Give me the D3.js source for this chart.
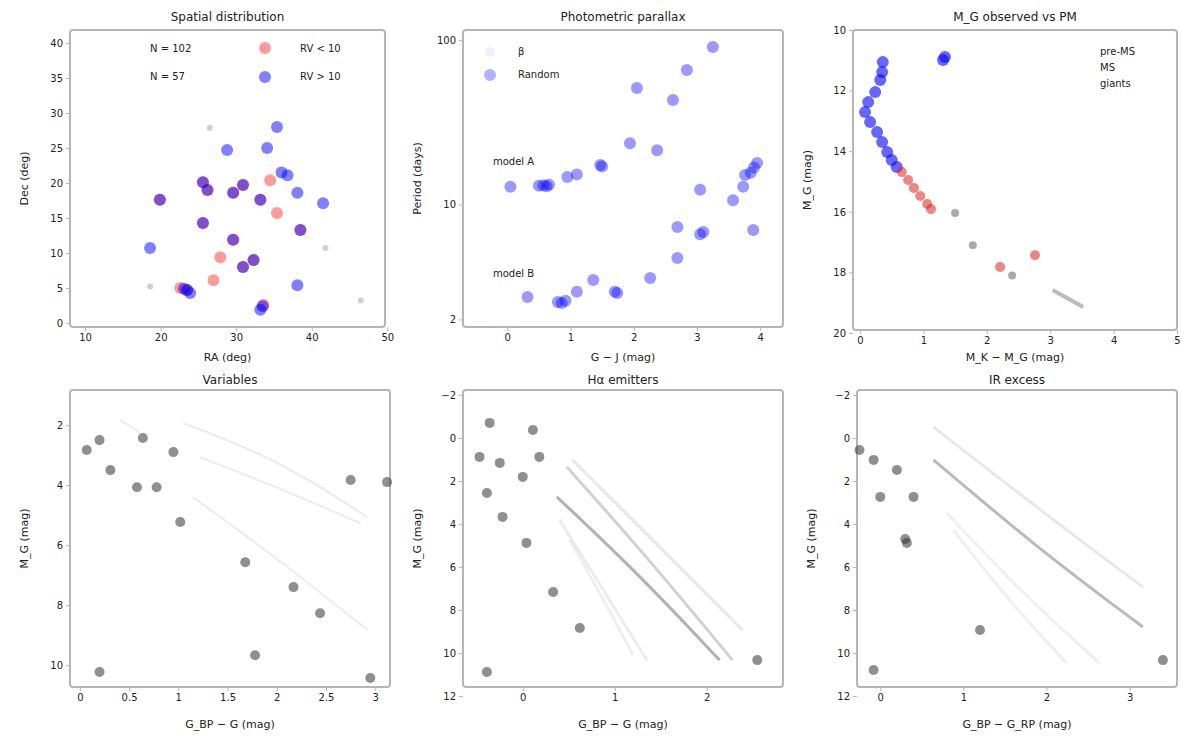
<!DOCTYPE html>
<html><head><meta charset="utf-8">
<script src="https://cdn.jsdelivr.net/npm/d3@7"></script>
<style>
body{margin:0;background:#fff;}
text{font-family:"DejaVu Sans",sans-serif;fill:#222;}
</style></head>
<body><svg id="c" width="1200" height="756"></svg>
<script>
// ---------- DATA ----------
const panelTitles = ["Spatial distribution","Photometric parallax","M_G observed vs PM","Variables","Hα emitters","IR excess"];
const xLabels = ["RA (deg)","G − J (mag)","M_K − M_G (mag)","G_BP − G (mag)","G_BP − G (mag)","G_BP − G_RP (mag)"];
const yLabels = ["Dec (deg)","Period (days)","M_G (mag)","M_G (mag)","M_G (mag)","M_G (mag)"];
const legend1Left = ["N = 102","N = 57"];
const legend1Right = ["RV < 10","RV > 10"];
const legend2 = ["β","Random"];
const trackLabels = ["model A","model B"];
const legend3 = ["pre-MS","MS","giants"];

const p1xTicks = [10,20,30,40,50];
const p1yTicks = [0,5,10,15,20,25,30,35,40];
const p2xTicks = [0,1,2,3,4];
const p2yTicks = [2,10,100];
const p3xTicks = [0,1,2,3,4,5];
const p3yTicks = [10,12,14,16,18,20];
const p4xTicks = [0,0.5,1,1.5,2,2.5,3];
const p4yTicks = [2,4,6,8,10];
const p5xTicks = [0,1,2];
const p5yTicks = [-2,0,2,4,6,8,10,12];
const p6xTicks = [0,1,2,3];
const p6yTicks = [-2,0,2,4,6,8,10,12];

// panel 1 : [RA, Dec]
const p1Red = [[25.6,20.1],[19.9,17.6],[26.2,19.0],[29.6,18.6],[30.9,19.7],[33.2,17.6],[25.6,14.3],[29.6,11.9],
  [27.9,9.4],[27.0,6.1],[35.4,15.7],[34.5,20.4],[22.6,5.0],[33.6,2.6],[32.3,9.0],[30.9,8.0],[38.5,13.3],[23.5,4.7]];
const p1Blue = [[35.4,28.0],[34.1,25.0],[28.8,24.7],[25.6,20.1],[19.9,17.6],[26.2,19.0],[29.6,18.6],[30.9,19.7],
  [33.2,17.6],[36.8,21.1],[38.1,18.6],[41.5,17.1],[38.5,13.3],[25.6,14.3],[29.6,11.9],[18.6,10.7],[32.3,9.0],
  [30.9,8.0],[23.5,4.7],[23.9,4.3],[23.1,4.9],[33.2,1.9],[33.5,2.4],[38.1,5.4],[36.0,21.5]];
const p1Gray = [[26.5,27.9],[18.6,5.2],[41.8,10.7],[46.5,3.2]];

// panel 2 : [G-J, period]
const p2Upper = [[0.05,12.8],[0.50,13.0],[0.57,13.1],[0.62,12.9],[0.66,13.2],[0.95,14.7],[1.10,15.2],[1.47,17.4],
  [1.50,17.0],[1.94,23.6],[2.37,21.4],[2.05,51.1],[2.62,43.2],[2.84,65.7],[3.25,90.7]];
const p2Lower = [[0.32,2.74],[0.80,2.55],[0.86,2.52],[0.92,2.6],[1.10,2.95],[1.36,3.47],[1.74,2.90],[1.70,2.95],
  [2.26,3.57],[2.69,4.73],[3.10,6.80],[3.05,6.6],[2.69,7.30],[3.57,10.6],[3.73,12.8],[3.95,17.9],[3.90,16.8],
  [3.85,15.6],[3.89,7.0],[3.05,12.3],[3.76,15.1]];

// panel 3 : [M_K - M_G, M_G]
const p3Blue = [[0.36,11.06],[0.35,11.39],[0.32,11.65],[0.24,12.05],[0.13,12.38],[0.08,12.71],[0.16,13.04],
  [0.27,13.37],[0.35,13.70],[0.43,14.03],[0.50,14.29],[0.58,14.52],[1.31,10.99],[1.34,10.89]];
const p3Red = [[0.66,14.69],[0.76,14.95],[0.85,15.21],[0.95,15.48],[1.06,15.74],[1.12,15.91],[2.21,17.82],[2.76,17.43]];
const p3Gray = [[1.78,17.10],[1.50,16.04],[2.40,18.1]];
const p3Seq = [[3.04,18.58],[3.28,18.86],[3.52,19.14]];

// panel 4
const p4Pts = [[0.20,2.50],[0.07,2.83],[0.64,2.43],[0.95,2.90],[0.31,3.50],[0.58,4.07],[0.78,4.07],[1.02,5.23],
  [1.68,6.57],[2.17,7.40],[2.44,8.27],[1.78,9.67],[0.20,10.23],[2.75,3.83],[3.12,3.90],[2.95,10.43]];
const p4Tracks = [
  [[1.05,1.93],[2.03,3.17],[2.92,5.07]],
  [[1.22,3.07],[2.03,4.1],[2.85,5.27]],
  [[1.15,4.4],[2.03,6.5],[2.92,8.83]],
  [[0.41,1.83],[0.62,2.27]]
];

// panel 5
const p5Pts = [[-0.36,-0.70],[0.11,-0.37],[-0.47,0.88],[-0.25,1.16],[0.0,1.81],[0.18,0.88],[-0.39,2.56],
  [-0.22,3.67],[0.04,4.88],[0.33,7.16],[0.62,8.84],[-0.39,10.88],[2.55,10.33]];
const p5Tracks = [
  [[0.48,1.35],[1.38,5.67],[2.28,10.33]],
  [[0.37,2.74],[1.27,6.37],[2.14,10.33]],
  [[0.54,1.02],[1.45,4.9],[2.39,8.93]],
  [[0.40,3.81],[0.85,6.9],[1.35,10.33]],
  [[0.51,4.74],[0.85,7.3],[1.20,10.1]]
];
const p5TrackShade = [0.3,0.5,0.15,0.12,0.1];

// panel 6
const p6Pts = [[-0.25,0.56],[-0.08,1.02],[0.20,1.49],[0.0,2.74],[0.40,2.74],[0.32,4.88],[0.30,4.7],
  [1.20,8.93],[-0.08,10.79],[3.40,10.33]];
const p6Tracks = [
  [[0.64,-0.51],[1.92,3.35],[3.16,6.93]],
  [[0.64,1.02],[1.92,5.21],[3.16,8.79]],
  [[0.80,3.49],[1.70,7.2],[2.64,10.47]],
  [[0.88,4.28],[1.55,7.6],[2.24,10.47]]
];
const p6TrackShade = [0.15,0.45,0.1,0.1];

// ---------- DRAW ----------
const svg = d3.select("#c");
const FRAME = "#b5b5b5";

function panel(o){
  const g = svg.append("g");
  const x = o.x, y = o.y;
  const l = d3.min(x.range()), r = d3.max(x.range());
  const t = d3.min(y.range()), b = d3.max(y.range());
  g.append("rect").attr("x",l).attr("y",t).attr("width",r-l).attr("height",b-t)
    .attr("fill","none").attr("stroke",FRAME).attr("stroke-width",2).attr("rx",3);
  const ax = g.append("g").attr("transform",`translate(0,${b})`)
    .call(d3.axisBottom(x).tickValues(o.xt).tickSize(4).tickSizeOuter(0).tickFormat(o.xf||d3.format("")));
  const ay = g.append("g").attr("transform",`translate(${l},0)`)
    .call(d3.axisLeft(y).tickValues(o.yt).tickSize(4).tickSizeOuter(0).tickFormat(o.yf||d3.format("")));
  [ax,ay].forEach(a=>{a.select(".domain").remove();
    a.selectAll("line").attr("stroke",FRAME);
    a.selectAll("text").style("font-size","10px").attr("fill","#333");});
  g.append("text").attr("x",(l+r)/2).attr("y",t - (o.tOff||9)).attr("text-anchor","middle")
    .style("font-size","12px").text(o.title);
  g.append("text").attr("x",(l+r)/2).attr("y",b + (o.xOff||41)).attr("text-anchor","middle")
    .style("font-size","11px").text(o.xl);
  g.append("text").attr("transform",`translate(${l-42},${(t+b)/2}) rotate(-90)`).attr("text-anchor","middle")
    .style("font-size","11px").text(o.yl);
  return g;
}
function dots(g,x,y,data,r,fill,op){
  g.selectAll(null).data(data).join("circle")
    .attr("cx",d=>x(d[0])).attr("cy",d=>y(d[1])).attr("r",r)
    .attr("fill",fill).attr("fill-opacity",op);
}
const curve = d3.line().curve(d3.curveBasis);

// Panel 1
{
  const x = d3.scaleLinear().domain([8.0,49.7]).range([70,385]);
  const y = d3.scaleLinear().domain([-0.57,41.86]).range([327,30]);
  const g = panel({x,y,xt:p1xTicks,yt:p1yTicks,title:panelTitles[0],xl:xLabels[0],yl:yLabels[0],xOff:34});
  dots(g,x,y,p1Gray,3,"#888",0.4);
  dots(g,x,y,p1Red,6,"#ff2020",0.45);
  dots(g,x,y,p1Blue,6,"#0000ff",0.5);
  const lx=[150,265,300];
  legend1Left.forEach((s,i)=>g.append("text").attr("x",lx[0]).attr("y",52+i*28).style("font-size","10px").text(s));
  g.append("circle").attr("cx",lx[1]).attr("cy",48).attr("r",6).attr("fill","#ff2020").attr("fill-opacity",0.45);
  g.append("circle").attr("cx",lx[1]).attr("cy",77).attr("r",6).attr("fill","#0000ff").attr("fill-opacity",0.5);
  legend1Right.forEach((s,i)=>g.append("text").attr("x",lx[2]).attr("y",52+i*28).style("font-size","10px").text(s));
}
// Panel 2
{
  const x = d3.scaleLinear().domain([-0.7,4.36]).range([463,783]);
  const y = d3.scaleLog().domain([1.8,115]).range([327,30]);
  const g = panel({x,y,xt:p2xTicks,yt:p2yTicks,title:panelTitles[1],xl:xLabels[1],yl:yLabels[1],yf:d3.format("d"),xOff:34});
  dots(g,x,y,p2Upper,6,"#0000ff",0.4);
  dots(g,x,y,p2Lower,6,"#0000ff",0.4);
  g.append("circle").attr("cx",490).attr("cy",52).attr("r",5).attr("fill","#0000ff").attr("fill-opacity",0.06);
  g.append("circle").attr("cx",490).attr("cy",75).attr("r",6).attr("fill","#0000ff").attr("fill-opacity",0.3);
  legend2.forEach((s,i)=>g.append("text").attr("x",518).attr("y",55+i*23).style("font-size","10px").text(s));
  g.append("text").attr("x",493).attr("y",165).style("font-size","10px").text(trackLabels[0]);
  g.append("text").attr("x",493).attr("y",277).style("font-size","10px").text(trackLabels[1]);
}
// Panel 3
{
  const x = d3.scaleLinear().domain([-0.11,5.0]).range([853,1177]);
  const y = d3.scaleLinear().domain([10,19.9]).range([30,330]);
  const g = panel({x,y,xt:p3xTicks,yt:p3yTicks,title:panelTitles[2],xl:xLabels[2],yl:yLabels[2],xOff:31});
  g.append("path").attr("d",curve(p3Seq.map(d=>[x(d[0]),y(d[1])]))).attr("fill","none")
    .attr("stroke","#777").attr("stroke-width",4).attr("stroke-opacity",0.5);
  dots(g,x,y,p3Gray,4,"#555",0.5);
  dots(g,x,y,p3Blue,6,"#0000ff",0.6);
  dots(g,x,y,p3Red,5,"#e02020",0.55);
  legend3.forEach((s,i)=>g.append("text").attr("x",1100).attr("y",55+i*16).style("font-size","10px").attr("fill","#888").text(s));
}
// bottom panels
function bottom(idx,xd,xr,yd,xt,yt,pts,tracks,shade){
  const x = d3.scaleLinear().domain(xd).range(xr);
  const y = d3.scaleLinear().domain(yd).range([390,687]);
  const g = panel({x,y,xt,yt,title:panelTitles[idx],xl:xLabels[idx],yl:yLabels[idx],tOff:6,
    xf:d3.format("~g"),yf:d3.format("d")});
  tracks.forEach((tr,i)=>g.append("path").attr("d",curve(tr.map(d=>[x(d[0]),y(d[1])])))
    .attr("fill","none").attr("stroke","#666").attr("stroke-width",shade?3:2)
    .attr("stroke-opacity",shade?shade[i]:0.12));
  dots(g,x,y,pts,5,"#333",0.55);
}
bottom(3,[-0.1,3.15],[70,390],[0.83,10.73],p4xTicks,p4yTicks,p4Pts,p4Tracks,null);
bottom(4,[-0.65,2.83],[463,783],[-2.23,11.58],p5xTicks,p5yTicks,p5Pts,p5Tracks,p5TrackShade);
bottom(5,[-0.28,3.57],[857,1177],[-2.23,11.58],p6xTicks,p6yTicks,p6Pts,p6Tracks,p6TrackShade);
</script></body></html>
